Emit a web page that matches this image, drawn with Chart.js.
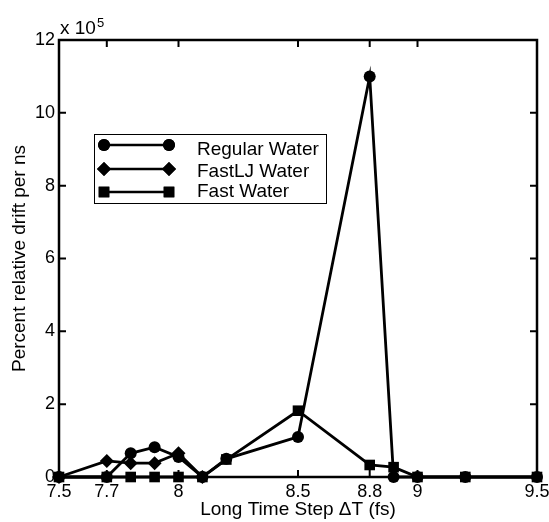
<!DOCTYPE html>
<html>
<head>
<meta charset="utf-8">
<script src="https://cdn.jsdelivr.net/npm/chart.js@4/dist/chart.umd.min.js"></script>
<style>
html,body{margin:0;padding:0;background:#fff;}
#wrap{width:549px;height:522px;}
</style>
</head>
<body>
<div id="wrap"><canvas id="c" width="549" height="522"></canvas></div>
<script>
const seriesNames = ["Regular Water", "FastLJ Water", "Fast Water"];
const xRegular = [7.5, 7.7, 7.8, 7.9, 8.0, 8.1, 8.2, 8.5, 8.8, 8.9, 9.0, 9.2, 9.5];
const yRegular = [0, 0, 0.65, 0.82, 0.55, 0, 0.5, 1.1, 11.0, 0, 0, 0, 0];
const xFastLJ = [7.5, 7.7, 7.8, 7.9, 8.0, 8.1];
const yFastLJ = [0, 0.44, 0.38, 0.38, 0.65, 0];
const xFast = [7.5, 7.7, 7.8, 7.9, 8.0, 8.1, 8.2, 8.5, 8.8, 8.9, 9.0, 9.2, 9.5];
const yFast = [0, 0, 0, 0, 0, 0, 0.48, 1.82, 0.33, 0.27, 0, 0, 0];
const xTicks = [7.5, 7.7, 8, 8.5, 8.8, 9, 9.5];
const yTicks = [0, 2, 4, 6, 8, 10, 12];

const FONT = "'Liberation Sans', Arial, Helvetica, sans-serif";
const pts = (xs, ys) => xs.map((x, i) => ({x: x, y: ys[i]}));

const styles = [
  {pointStyle: 'circle', pointRadius: 6},
  {pointStyle: 'rectRot', pointRadius: 7},
  {pointStyle: 'rect', pointRadius: 7.5}
];

const datasets = [pts(xRegular, yRegular), pts(xFastLJ, yFastLJ), pts(xFast, yFast)].map((d, i) => ({
  label: seriesNames[i],
  data: d,
  showLine: true,
  borderColor: '#000',
  backgroundColor: '#000',
  borderWidth: 2.8,
  pointBackgroundColor: '#000',
  pointBorderColor: '#000',
  pointBorderWidth: 0,
  pointStyle: styles[i].pointStyle,
  pointRadius: styles[i].pointRadius,
  tension: 0,
  clip: false
}));

const framePlugin = {
  id: 'frame',
  afterDatasetsDraw(chart) {
    const {ctx, chartArea: a, scales: {x, y}} = chart;
    ctx.save();
    ctx.strokeStyle = '#000';
    ctx.lineWidth = 2.5;
    ctx.strokeRect(a.left, a.top, a.right - a.left, a.bottom - a.top);
    ctx.lineWidth = 2;
    const tl = 7;
    ctx.beginPath();
    xTicks.forEach(v => {
      const px = x.getPixelForValue(v);
      ctx.moveTo(px, a.bottom); ctx.lineTo(px, a.bottom - tl);
      ctx.moveTo(px, a.top); ctx.lineTo(px, a.top + tl);
    });
    yTicks.forEach(v => {
      const py = y.getPixelForValue(v);
      ctx.moveTo(a.left, py); ctx.lineTo(a.left + tl, py);
      ctx.moveTo(a.right, py); ctx.lineTo(a.right - tl, py);
    });
    ctx.stroke();
    // exponent label
    ctx.fillStyle = '#000';
    ctx.textBaseline = 'alphabetic';
    ctx.textAlign = 'left';
    ctx.font = '19px ' + FONT;
    ctx.fillText('x 10', a.left + 1, 34);
    const w = ctx.measureText('x 10').width;
    ctx.font = '13px ' + FONT;
    ctx.fillText('5', a.left + 1 + w + 1, 27);
    // legend
    const lx = 94, ly = 134, lw = 232, lh = 69;
    ctx.fillStyle = '#fff';
    ctx.fillRect(lx, ly, lw, lh);
    ctx.lineWidth = 1;
    ctx.strokeStyle = '#000';
    ctx.strokeRect(lx + 0.5, ly + 0.5, lw, lh);
    const rows = [145, 169, 192];
    const trows = [150, 172, 192];
    chart.data.datasets.forEach((ds, i) => {
      const ry = rows[i];
      ctx.lineWidth = 2.5;
      ctx.beginPath();
      ctx.moveTo(104, ry); ctx.lineTo(169, ry);
      ctx.stroke();
      ctx.fillStyle = '#000';
      [104, 169].forEach(px => {
        Chart.helpers.drawPoint(ctx, {pointStyle: ds.pointStyle, radius: ds.pointRadius, borderWidth: 0, rotation: 0}, px, ry);
        ctx.fill();
      });
      ctx.fillStyle = '#000';
      ctx.font = '19px ' + FONT;
      ctx.textBaseline = 'middle';
      ctx.fillText(ds.label, 197, trows[i]);
    });
    ctx.restore();
  }
};

new Chart(document.getElementById('c'), {
  type: 'scatter',
  data: {datasets: datasets},
  options: {
    responsive: false,
    animation: false,
    events: [],
    layout: {padding: {left: 0, right: 12, top: 40, bottom: 0}},
    plugins: {legend: {display: false}, tooltip: {enabled: false}},
    scales: {
      x: {
        type: 'linear',
        min: 7.5, max: 9.5,
        afterBuildTicks: s => { s.ticks = xTicks.map(v => ({value: v})); },
        afterFit: s => { s.height = 45; s.paddingLeft = 0; s.paddingRight = 0; },
        grid: {display: false, drawTicks: false},
        border: {display: false},
        ticks: {color: '#000', font: {family: FONT, size: 18}, padding: 4, maxRotation: 0, autoSkip: false,
          callback: v => String(v)},
        title: {display: true, text: 'Long Time Step \u0394T (fs)', color: '#000', font: {family: FONT, size: 19}, padding: {top: 0, bottom: 1}}
      },
      y: {
        type: 'linear',
        min: 0, max: 12,
        afterBuildTicks: s => { s.ticks = yTicks.map(v => ({value: v})); },
        afterFit: s => { s.width = 59; s.paddingTop = 0; s.paddingBottom = 0; },
        grid: {display: false, drawTicks: false},
        border: {display: false},
        ticks: {color: '#000', font: {family: FONT, size: 18}, padding: 4, autoSkip: false,
          callback: v => String(v)},
        title: {display: true, text: 'Percent relative drift per ns', color: '#000', font: {family: FONT, size: 19}, padding: {top: 8, bottom: 0}}
      }
    }
  },
  plugins: [framePlugin]
});
</script>
</body>
</html>
